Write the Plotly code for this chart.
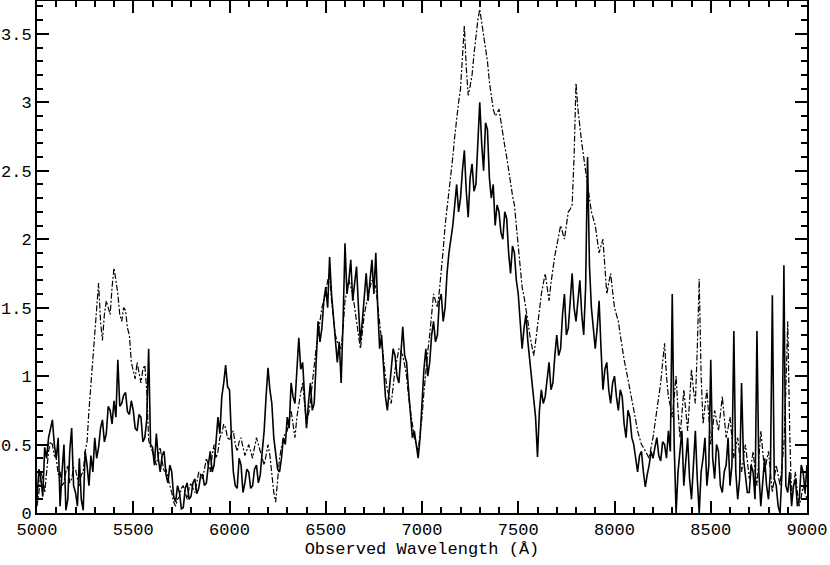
import plotly.graph_objects as go

# Wavelength sampling grid (Angstrom), 10 A step from 5000 to 9000
wavelength = list(range(5000, 9001, 10))

# Solid spectrum, one row per 100 A
flux_solid = [
    0.10, 0.32, 0.25, 0.12, 0.48, 0.40, 0.55, 0.62, 0.68, 0.50,
    0.40, 0.55, 0.05, 0.30, 0.50, 0.02, 0.10, 0.45, 0.62, 0.20,
    0.15, 0.05, 0.40, 0.10, 0.02, 0.45, 0.35, 0.20, 0.42, 0.30,
    0.55, 0.40, 0.48, 0.62, 0.68, 0.52, 0.58, 0.78, 0.75, 0.65,
    0.82, 0.70, 1.12, 0.78, 0.80, 0.86, 0.88, 0.74, 0.72, 0.82,
    0.75, 0.62, 0.60, 0.72, 0.70, 0.52, 0.55, 0.68, 1.20, 0.50,
    0.48, 0.35, 0.58, 0.40, 0.30, 0.42, 0.45, 0.28, 0.22, 0.35,
    0.30, 0.12, 0.08, 0.20, 0.15, 0.03, 0.04, 0.18, 0.22, 0.10,
    0.12, 0.22, 0.25, 0.14, 0.18, 0.27, 0.28, 0.20, 0.22, 0.35,
    0.45, 0.30, 0.35, 0.52, 0.70, 0.58, 0.85, 0.95, 1.08, 0.92,
    0.90, 0.55, 0.30, 0.20, 0.18, 0.40, 0.35, 0.15, 0.22, 0.32,
    0.30, 0.18, 0.20, 0.32, 0.35, 0.22, 0.28, 0.45, 0.60, 0.85,
    1.06, 0.90, 0.80, 0.55, 0.45, 0.32, 0.30, 0.40, 0.55, 0.50,
    0.70, 0.62, 0.95, 0.85, 0.80, 1.05, 1.28, 1.05, 1.10, 0.85,
    0.62, 0.80, 0.95, 0.75, 0.80, 1.10, 1.40, 1.25, 1.35, 1.55,
    1.65, 1.50, 1.87, 1.60, 1.45, 1.30, 1.10, 1.25, 0.95, 1.40,
    1.97, 1.60, 1.70, 1.85, 1.55, 1.68, 1.80, 1.50, 1.25, 1.40,
    1.60, 1.75, 1.55, 1.68, 1.85, 1.60, 1.90, 1.50, 1.20, 1.30,
    1.05, 0.85, 0.75, 0.90, 1.00, 1.20, 1.15, 1.00, 0.95, 1.20,
    1.36, 1.15, 1.10, 0.90, 0.70, 0.55, 0.60, 0.48, 0.40, 0.55,
    0.85, 1.05, 1.20, 1.00, 1.10, 1.30, 1.40, 1.25, 1.30, 1.55,
    1.60, 1.40, 1.50, 1.75, 1.90, 2.00, 2.10, 2.25, 2.40, 2.20,
    2.30, 2.50, 2.65, 2.35, 2.16, 2.45, 2.55, 2.35, 2.40, 2.70,
    3.00, 2.70, 2.50, 2.85, 2.80, 2.45, 2.30, 2.40, 2.10, 2.25,
    2.20, 2.05, 2.00, 2.20, 2.15, 1.90, 1.75, 1.95, 1.90, 1.70,
    1.60, 1.40, 1.20, 1.35, 1.45, 1.25, 1.10, 0.95, 0.80, 0.70,
    0.41, 0.75, 0.90, 0.80, 0.85, 1.00, 1.10, 0.90, 0.95, 1.15,
    1.30, 1.15, 1.20, 1.45, 1.60, 1.30, 1.35, 1.55, 1.75, 1.50,
    1.40, 1.55, 1.70, 1.45, 1.30, 1.65, 2.60, 1.80, 1.50, 1.35,
    1.20, 1.35, 1.55, 1.20, 0.90, 1.05, 1.10, 0.90, 0.80, 0.95,
    1.00, 0.85, 0.75, 0.90, 0.85, 0.65, 0.55, 0.75, 0.70, 0.55,
    0.50, 0.40, 0.30, 0.42, 0.45, 0.30, 0.19, 0.28, 0.35, 0.45,
    0.40, 0.48, 0.55, 0.42, 0.38, 0.52, 0.50, 0.40, 0.60, 0.45,
    1.60, 0.50, 0.00, 0.30, 0.45, 0.60, 0.20, 0.35, 0.55, 0.25,
    0.10, 0.35, 0.60, 0.25, 0.00, 0.30, 0.40, 0.55, 0.20, 0.35,
    1.12, 0.40, 0.25, 0.50, 0.45, 0.20, 0.15, 0.30, 0.35, 0.55,
    0.20, 0.35, 1.33, 0.30, 0.10, 0.25, 0.95, 0.40, 0.25, 0.15,
    0.15, 0.35, 0.30, 0.10, 1.33, 0.30, 0.05, 0.25, 0.40, 0.20,
    0.10, 0.30, 1.59, 0.25, 0.20, 0.05, 0.00, 0.30, 1.81, 0.20,
    0.15, 0.30, 0.05, 0.20, 0.25, 0.05, 0.10, 0.35, 0.30, 0.15,
    0.35,
]

# Dashed spectrum, one row per 100 A
flux_dashed = [
    0.05, 0.15, 0.30, 0.25, 0.15, 0.30, 0.45, 0.52, 0.50, 0.42,
    0.40, 0.28, 0.30, 0.20, 0.22, 0.30, 0.35, 0.22, 0.25, 0.33,
    0.32, 0.25, 0.20, 0.28, 0.30, 0.45, 0.52, 0.75, 0.95, 1.15,
    1.30, 1.55, 1.68, 1.40, 1.26, 1.45, 1.55, 1.50, 1.45, 1.65,
    1.79, 1.70, 1.60, 1.45, 1.40, 1.50, 1.48, 1.35, 1.30, 1.10,
    1.05, 0.98, 1.10, 1.02, 0.95, 1.05, 1.08, 0.90, 0.53, 0.48,
    0.45, 0.40, 0.35, 0.42, 0.48, 0.38, 0.30, 0.32, 0.25, 0.20,
    0.15, 0.08, 0.05, 0.10, 0.12, 0.18, 0.20, 0.15, 0.10, 0.18,
    0.22, 0.18, 0.15, 0.22, 0.30, 0.28, 0.25, 0.32, 0.40, 0.35,
    0.30, 0.42, 0.50, 0.40, 0.45, 0.55, 0.58, 0.65, 0.62, 0.55,
    0.53, 0.58, 0.60, 0.50, 0.45, 0.52, 0.55, 0.48, 0.42, 0.46,
    0.50, 0.45, 0.40, 0.48, 0.55, 0.50, 0.45, 0.40, 0.35, 0.42,
    0.50, 0.42, 0.30, 0.15, 0.08, 0.25, 0.40, 0.48, 0.55, 0.58,
    0.60, 0.68, 0.75, 0.65, 0.55, 0.70, 0.80, 0.88, 0.95, 0.80,
    0.65, 0.72, 0.80, 0.95, 1.10, 1.20, 1.30, 1.42, 1.50, 1.55,
    1.60, 1.70, 1.75, 1.55, 1.40, 1.30, 1.25, 1.22, 1.20, 1.35,
    1.55, 1.62, 1.70, 1.65, 1.60, 1.50, 1.40, 1.30, 1.20, 1.32,
    1.45, 1.52, 1.60, 1.65, 1.70, 1.68, 1.65, 1.52, 1.40, 1.25,
    1.10, 1.00, 0.90, 0.85, 0.80, 0.92, 1.05, 1.12, 1.20, 1.18,
    1.15, 1.08, 1.00, 0.85, 0.75, 0.65, 0.55, 0.50, 0.45, 0.58,
    0.70, 0.88, 1.05, 1.18, 1.30, 1.45, 1.60, 1.55, 1.50, 1.62,
    1.75, 1.92, 2.10, 2.22, 2.33, 2.45, 2.60, 2.75, 2.90, 3.00,
    3.10, 3.35, 3.56, 3.25, 3.05, 3.12, 3.20, 3.35, 3.50, 3.60,
    3.68, 3.58, 3.50, 3.40, 3.30, 3.15, 3.05, 2.95, 2.90, 2.92,
    2.95, 2.85, 2.75, 2.68, 2.60, 2.50, 2.40, 2.32, 2.25, 2.10,
    1.90, 1.78, 1.65, 1.58, 1.50, 1.40, 1.30, 1.22, 1.15, 1.25,
    1.35, 1.48, 1.60, 1.68, 1.75, 1.65, 1.55, 1.68, 1.80, 1.88,
    1.95, 2.02, 2.10, 2.05, 2.00, 2.10, 2.20, 2.22, 2.25, 2.60,
    3.14, 2.95, 2.80, 2.70, 2.60, 2.50, 2.40, 2.30, 2.20, 2.15,
    2.10, 2.00, 1.90, 1.95, 2.00, 1.80, 1.60, 1.68, 1.75, 1.62,
    1.50, 1.45, 1.40, 1.30, 1.20, 1.12, 1.05, 0.98, 0.90, 0.82,
    0.75, 0.68, 0.60, 0.55, 0.50, 0.48, 0.45, 0.42, 0.40, 0.48,
    0.55, 0.65, 0.75, 0.85, 0.95, 1.10, 1.24, 1.00, 0.85, 0.78,
    0.70, 0.85, 1.00, 0.75, 0.55, 0.72, 0.90, 0.75, 0.60, 0.82,
    1.05, 0.90, 0.80, 1.20, 1.71, 1.00, 0.65, 0.78, 0.90, 0.70,
    0.50, 0.62, 0.75, 0.68, 0.60, 0.72, 0.85, 0.70, 0.55, 0.62,
    0.70, 0.55, 0.40, 0.48, 0.55, 0.42, 0.30, 0.40, 0.50, 0.38,
    0.25, 0.35, 0.45, 0.32, 0.20, 0.40, 0.60, 0.45, 0.30, 0.38,
    0.45, 0.30, 0.15, 0.25, 0.35, 0.28, 0.20, 0.35, 0.50, 0.90,
    1.40, 0.60, 0.10, 0.20, 0.30, 0.15, 0.05, 0.12, 0.20, 0.15,
    0.10,
]

x_tick_values = [5000, 5500, 6000, 6500, 7000, 7500, 8000, 8500, 9000]
y_tick_values = [0, 0.5, 1, 1.5, 2, 2.5, 3, 3.5]
y_tick_text = ["0", "0.5", "1", "1.5", "2", "2.5", "3", "3.5"]
x_title = "Observed Wavelength (Å)"

fig = go.Figure()
fig.add_trace(go.Scatter(x=wavelength, y=flux_dashed, mode="lines",
                         line=dict(color="black", width=1.2, dash="6px,2px,2px,2px"),
                         showlegend=False))
fig.add_trace(go.Scatter(x=wavelength, y=flux_solid, mode="lines",
                         line=dict(color="black", width=1.6),
                         showlegend=False))

font = dict(family="Liberation Mono", size=17, color="black")
fig.update_layout(
    width=830, height=565,
    margin=dict(l=37, r=23, t=1, b=52),
    paper_bgcolor="white", plot_bgcolor="white",
    font=font,
    xaxis=dict(range=[5000, 9000], tickvals=x_tick_values, ticks="inside",
               ticklen=12, tickwidth=1.5, tickcolor="black",
               showline=True, linecolor="black", linewidth=2, mirror="allticks",
               showgrid=False, zeroline=False, automargin=False,
               minor=dict(dtick=100, ticks="inside", ticklen=6, tickwidth=1.5,
                          tickcolor="black", showgrid=False),
               title=dict(text=x_title, standoff=0, font=font),
               tickfont=font),
    yaxis=dict(range=[0, 3.74], tickvals=y_tick_values, ticktext=y_tick_text,
               ticks="inside", ticklen=12, tickwidth=1.5, tickcolor="black",
               showline=True, linecolor="black", linewidth=2, mirror="allticks",
               showgrid=False, zeroline=False, automargin=False,
               minor=dict(dtick=0.1, ticks="inside", ticklen=6, tickwidth=1.5,
                          tickcolor="black", showgrid=False),
               tickfont=font),
)

fig.write_html("out.html", config={"displayModeBar": False},
               post_script="document.body.style.margin='0';")
